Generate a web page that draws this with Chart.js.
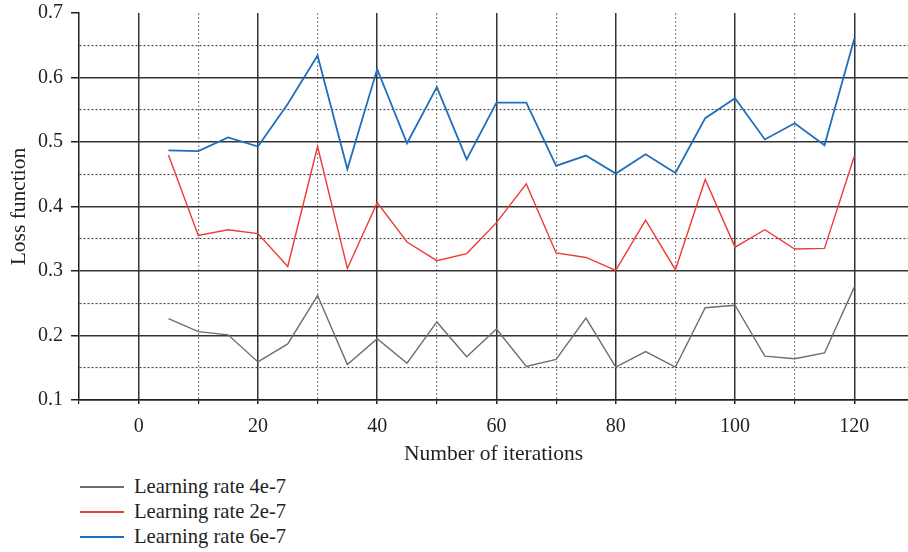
<!DOCTYPE html>
<html>
<head>
<meta charset="utf-8">
<script src="https://cdn.jsdelivr.net/npm/chart.js@4/dist/chart.umd.min.js"></script>
<style>
  body { margin: 0; background: #fff; }
  #wrap { position: relative; width: 908px; height: 552px; }
  #legend { position: absolute; left: 80px; top: 474px; font-family: "Liberation Serif", serif; font-size: 20.6px; color: #231f20; }
  .item { display: flex; align-items: center; height: 25px; }
  .item .line { display: block; width: 44px; height: 2px; margin-right: 10px; }
</style>
</head>
<body>
<div id="wrap">
  <canvas id="myChart" width="908" height="470"></canvas>
  <div id="legend"></div>
</div>
<script>
const iterations = [5, 10, 15, 20, 25, 30, 35, 40, 45, 50, 55, 60, 65, 70, 75, 80, 85, 90, 95, 100, 105, 110, 115, 120];

const lr4 = [0.226, 0.206, 0.201, 0.159, 0.187, 0.262, 0.155, 0.195, 0.157, 0.221, 0.167, 0.210,
             0.152, 0.163, 0.227, 0.151, 0.175, 0.151, 0.243, 0.247, 0.168, 0.164, 0.173, 0.275];
const lr2 = [0.480, 0.355, 0.364, 0.358, 0.307, 0.493, 0.304, 0.406, 0.345, 0.316, 0.327, 0.375,
             0.435, 0.328, 0.321, 0.301, 0.379, 0.302, 0.442, 0.337, 0.364, 0.334, 0.335, 0.478];
const lr6 = [0.487, 0.486, 0.507, 0.493, 0.559, 0.634, 0.458, 0.613, 0.498, 0.585, 0.473, 0.561,
             0.561, 0.463, 0.479, 0.451, 0.481, 0.452, 0.537, 0.568, 0.504, 0.529, 0.495, 0.660];

const seriesNames = ['Learning rate 4e-7', 'Learning rate 2e-7', 'Learning rate 6e-7'];
const seriesColors = ['#6e6e6e', '#ee3b36', '#1f6fbd'];

// grid positions and the ones that get a label
const xGrid = [-10, 0, 10, 20, 30, 40, 50, 60, 70, 80, 90, 100, 110, 120];
const xLabels = [0, 20, 40, 60, 80, 100, 120];
const yGrid = [0.1, 0.15, 0.2, 0.25, 0.3, 0.35, 0.4, 0.45, 0.5, 0.55, 0.6, 0.65, 0.7];
const yLabels = ['0.1', '0.2', '0.3', '0.4', '0.5', '0.6', '0.7'];

const ink = '#231f20';
const serif = '"Liberation Serif", serif';

const isXMajor = v => xLabels.includes(v);
const yLabelOf = v => yLabels.find(l => Math.abs(parseFloat(l) - v) < 1e-6);

const toPoints = arr => arr.map((v, i) => ({ x: iterations[i], y: v }));

const data = {
    datasets: [
        { label: seriesNames[0], data: toPoints(lr4), borderColor: seriesColors[0], borderWidth: 1.4 },
        { label: seriesNames[1], data: toPoints(lr2), borderColor: seriesColors[1], borderWidth: 1.4 },
        { label: seriesNames[2], data: toPoints(lr6), borderColor: seriesColors[2], borderWidth: 1.8 },
    ]
};

const config = {
    type: 'line',
    data: data,
    options: {
        responsive: false,
        animation: false,
        layout: { padding: { top: 13, right: 0, left: 0, bottom: 0 } },
        elements: { point: { radius: 0 }, line: { tension: 0 } },
        plugins: { legend: { display: false }, tooltip: { enabled: false } },
        scales: {
            x: {
                type: 'linear',
                min: -10,
                max: 129,
                afterBuildTicks: s => { s.ticks = xGrid.map(v => ({ value: v })); },
                afterFit: s => { s.height = 70; s.paddingLeft = 0; s.paddingRight = 0; },
                ticks: {
                    color: ink, font: { family: serif, size: 20 }, padding: 11, maxRotation: 0, autoSkip: false,
                    callback: v => isXMajor(v) ? String(v) : ''
                },
                grid: {
                    tickLength: 4,
                    tickColor: ink,
                    color: c => c.tick && c.tick.value === -10 ? 'rgba(0,0,0,0)' : (isXMajor(c.tick.value) ? '#333' : '#8a8a8a'),
                    lineWidth: c => c.tick && isXMajor(c.tick.value) ? 1.5 : 1.2
                },
                border: {
                    color: ink, width: 1.5,
                    dash: c => (c.tick && !isXMajor(c.tick.value)) ? [2, 2] : []
                },
                title: { display: true, text: 'Number of iterations', color: ink, font: { family: serif, size: 21.5 }, padding: { top: 3, bottom: 3 } }
            },
            y: {
                min: 0.1,
                max: 0.7,
                afterBuildTicks: s => { s.ticks = yGrid.map(v => ({ value: v })); },
                afterFit: s => { s.width = 79; s.paddingTop = 0; s.paddingBottom = 0; },
                ticks: {
                    color: ink, font: { family: serif, size: 20 }, padding: 8, autoSkip: false,
                    callback: v => yLabelOf(v) || ''
                },
                grid: {
                    tickLength: 8,
                    tickColor: c => c.tick && yLabelOf(c.tick.value) ? ink : 'rgba(0,0,0,0)',
                    color: c => {
                        if (!c.tick) return '#333';
                        if (Math.abs(c.tick.value - 0.7) < 1e-6) return 'rgba(0,0,0,0)';
                        return yLabelOf(c.tick.value) ? '#333' : '#444';
                    },
                    lineWidth: c => c.tick && yLabelOf(c.tick.value) ? 1.5 : 1.1
                },
                border: {
                    color: ink, width: 1.5,
                    dash: c => (c.tick && !yLabelOf(c.tick.value)) ? [2, 2] : []
                },
                title: { display: true, text: 'Loss function', color: ink, font: { family: serif, size: 21.5 }, padding: { top: 6, bottom: 0 } }
            }
        }
    }
};

const myChart = new Chart(document.getElementById('myChart'), config);

// legend stacked under the chart, built from the datasets
const legendBox = document.getElementById('legend');
myChart.data.datasets.forEach((ds) => {
    const row = document.createElement('div');
    row.className = 'item';
    const line = document.createElement('span');
    line.className = 'line';
    line.style.backgroundColor = ds.borderColor;
    const txt = document.createElement('span');
    txt.textContent = ds.label;
    row.appendChild(line);
    row.appendChild(txt);
    legendBox.appendChild(row);
});
</script>
</body>
</html>
